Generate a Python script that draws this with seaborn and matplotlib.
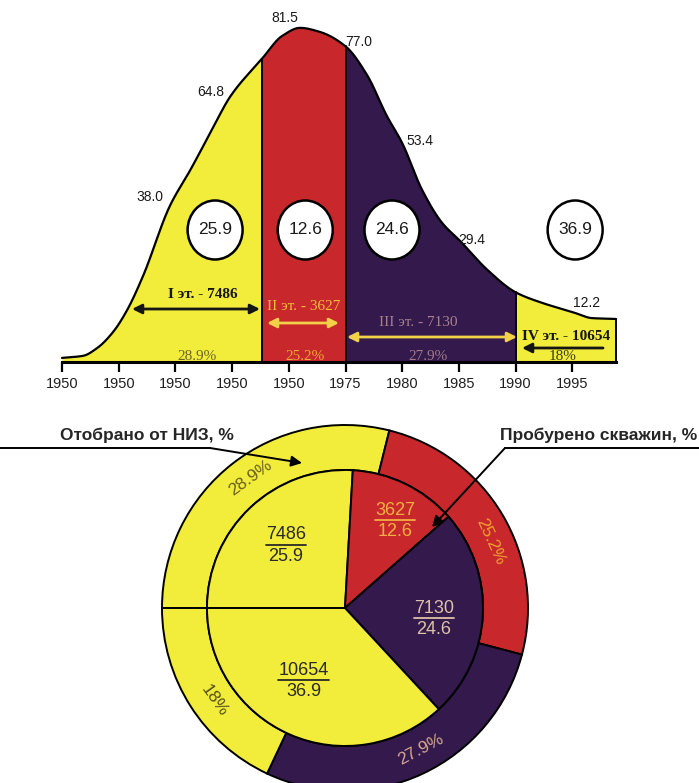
import numpy as np
import matplotlib
matplotlib.use('Agg')
import matplotlib.pyplot as plt
import seaborn as sns
from matplotlib.patches import Ellipse, FancyArrowPatch

# ---------------- data ----------------
tick_labels = ['1950', '1950', '1950', '1950', '1950', '1975', '1980', '1985', '1990', '1995']
curve_x = [0, 0.37, 0.62, 0.9, 1.15, 1.43, 1.9, 2.27, 2.62, 2.97, 3.53, 3.88, 4.2, 4.55,
           5.0, 5.38, 5.73, 6.0, 6.35, 6.7, 7.03, 7.5, 8.0, 8.45, 9.0, 9.35, 9.77]
curve_y = [1.0, 1.5, 3.4, 7.3, 12.7, 21.0, 38.0, 47.0, 56.0, 64.8, 74.0, 79.5, 81.5, 80.5,
           77.0, 70.0, 60.0, 53.4, 42.0, 34.0, 29.4, 22.5, 17.0, 14.5, 12.2, 10.7, 10.5]
point_x = [1.9, 2.97, 4.2, 5.0, 6.0, 7.03, 9.0]
point_vals = [38.0, 64.8, 81.5, 77.0, 53.4, 29.4, 12.2]
stage_bounds = [0, 3.53, 5.0, 8.0, 9.77]
stage_names = ['I эт. - 7486', 'II эт. - 3627', 'III эт. - 7130', 'IV эт. - 10654']
wells = [7486, 3627, 7130, 10654]
oil_share = [25.9, 12.6, 24.6, 36.9]        # отобрано от НИЗ, %
wells_share = [28.9, 25.2, 27.9, 18]        # пробурено скважин, %
circle_x = [2.70, 4.29, 5.82, 9.05]

stage_colors = ['#F2EC3A', '#C8282C', '#33194C', '#F2EC3A']
stage_txt_colors = ['#151515', '#F2BE3C', '#A8828E', '#151515']
pct_txt_colors = ['#6B6424', '#F0A838', '#A07A86', '#3A3A20']
pie_in_txt = ['#2a2a2a', '#F2B040', '#DCC2A4', '#2a2a2a']
pie_out_txt = ['#6A6020', '#F0A030', '#D8A890', '#555020']

sns.set_theme(style='white')
plt.rcParams['font.family'] = ['Liberation Sans', 'DejaVu Sans']
SERIF = ['Liberation Serif', 'DejaVu Serif']


def pchip(x, y, xs):
    x = np.asarray(x, float)
    y = np.asarray(y, float)
    h = np.diff(x)
    d = np.diff(y) / h
    m = np.zeros_like(y)
    m[0], m[-1] = d[0], d[-1]
    for k in range(1, len(x) - 1):
        if d[k - 1] * d[k] <= 0:
            m[k] = 0
        else:
            w1 = 2 * h[k] + h[k - 1]
            w2 = h[k] + 2 * h[k - 1]
            m[k] = (w1 + w2) / (w1 / d[k - 1] + w2 / d[k])
    idx = np.clip(np.searchsorted(x, xs) - 1, 0, len(x) - 2)
    t = (xs - x[idx]) / h[idx]
    h00 = 2 * t**3 - 3 * t**2 + 1
    h10 = t**3 - 2 * t**2 + t
    h01 = -2 * t**3 + 3 * t**2
    h11 = t**3 - t**2
    return h00 * y[idx] + h10 * h[idx] * m[idx] + h01 * y[idx + 1] + h11 * h[idx] * m[idx + 1]


W, H = 699, 783
fig = plt.figure(figsize=(W / 100, H / 100), dpi=100)
fig.patch.set_facecolor('white')

# ---------------- top area chart ----------------
PX0, PXS = 62, 56.7       # pixel of idx 0, pixels per idx
BASE, PYS = 362, 4.1      # baseline pixel, pixels per unit
ax_l, ax_r, ax_t = 40, 640, 10
ax = fig.add_axes([ax_l / W, (H - BASE) / H, (ax_r - ax_l) / W, (BASE - ax_t) / H])
ax.set_xlim((ax_l - PX0) / PXS, (ax_r - PX0) / PXS)
ax.set_ylim(0, (BASE - ax_t) / PYS)
ax.patch.set_alpha(0)

for i in range(4):
    xs = np.linspace(stage_bounds[i], stage_bounds[i + 1], 400)
    ys = pchip(curve_x, curve_y, xs)
    ax.fill_between(xs, 0, ys, color=stage_colors[i], lw=0, zorder=1)
xf = np.linspace(curve_x[0], curve_x[-1], 1500)
sns.lineplot(x=xf, y=pchip(curve_x, curve_y, xf), ax=ax, color='black', lw=1.6, zorder=3)
for b in stage_bounds[1:]:
    ax.plot([b, b], [0, float(pchip(curve_x, curve_y, np.array([b]))[0])], color='black',
            lw=1.4, zorder=3)

for s in ['top', 'right', 'left']:
    ax.spines[s].set_visible(False)
ax.spines['bottom'].set_bounds(0, stage_bounds[-1])
ax.spines['bottom'].set_linewidth(2.2)
ax.spines['bottom'].set_color('black')
ax.spines['bottom'].set_zorder(4)
ax.set_xticks(range(len(tick_labels)))
ax.set_xticklabels(tick_labels, fontsize=10.5, color='#202020')
ax.set_yticks([])
ax.tick_params(axis='x', direction='out', length=7.5, width=1.6, color='black', pad=3,
               bottom=True)

# point value labels
offs = [(-20, 9), (-20, 4), (-15, 10), (13, 4), (18, 2), (11, 1), (14, 9)]
for x, v, o in zip(point_x, point_vals, offs):
    ax.annotate(f'{v:.1f}', (x, v), xytext=o, textcoords='offset pixels',
                ha='center', va='center', fontsize=10, color='#1a1a1a', zorder=5)

# circles with oil share
cy = (BASE - 230) / PYS
for x, v in zip(circle_x, oil_share):
    ax.add_patch(Ellipse((x, cy), 55 / PXS, 59 / PYS, facecolor='white',
                         edgecolor='black', lw=1.8, zorder=5))
    ax.text(x, cy, f'{v:.1f}', ha='center', va='center', fontsize=12.5, color='#1a1a1a',
            zorder=6)


def py(p):
    return (BASE - p) / PYS


def pxv(p):
    return (p - PX0) / PXS


lab_pos = [(203, 295), (304, 307), (418, 323), (566, 337)]
lab_bold = ['bold', 'normal', 'normal', 'bold']
for i in range(4):
    ax.text(pxv(lab_pos[i][0]), py(lab_pos[i][1]), stage_names[i], ha='center', va='center',
            fontsize=11, family=SERIF, weight=lab_bold[i], color=stage_txt_colors[i], zorder=6)
arrows = [((132, 260, 309), '<|-|>', '#151515'), ((267, 339, 323), '<|-|>', '#F2D048'),
          ((347, 517, 337), '<|-|>', '#F2D048'), ((603, 522, 348), '-|>', '#151515')]
for (a0, a1, yy), st, c in arrows:
    ax.add_patch(FancyArrowPatch((pxv(a0), py(yy)), (pxv(a1), py(yy)), arrowstyle=st,
                                 mutation_scale=14, color=c, lw=2.0, zorder=6,
                                 shrinkA=0, shrinkB=0))
pct_x = [197, 305, 428, 563]
for i in range(4):
    s = f'{wells_share[i]:g}%'
    ax.text(pxv(pct_x[i]), py(357), s, ha='center', va='center', fontsize=11, family=SERIF,
            color=pct_txt_colors[i], zorder=6)

# ---------------- bottom pie ----------------
CX, CY, R = 345, 608, 183
r_in = 138 / R
axp = fig.add_axes([(CX - R) / W, (H - CY - R) / H, 2 * R / W, 2 * R / H])
outer, _ = axp.pie(wells_share, radius=1, startangle=180, counterclock=False,
                   colors=stage_colors,
                   wedgeprops=dict(width=1 - r_in, edgecolor='black', linewidth=1.4))
inner, _ = axp.pie(oil_share, radius=r_in, startangle=180, counterclock=False,
                   colors=stage_colors,
                   wedgeprops=dict(edgecolor='black', linewidth=1.4))
axp.set_xlim(-1, 1)
axp.set_ylim(-1, 1)
axp.set_aspect('equal')
axp.axis('off')

out_shift = [-2, -6, 3, 3]
for i, w in enumerate(outer):
    mid = (w.theta1 + w.theta2) / 2 + out_shift[i]
    rr = (1 + r_in) / 2
    x, y = rr * np.cos(np.radians(mid)), rr * np.sin(np.radians(mid))
    rot = mid - 90 if 0 <= (mid % 360) <= 180 else mid + 90
    axp.text(x, y, f'{wells_share[i]:g}%', ha='center', va='center', rotation=rot,
             rotation_mode='anchor', fontsize=12.5, color=pie_out_txt[i])

renderer = fig.canvas.get_renderer()
in_r = [0.47, 0.55, 0.49, 0.46]
in_shift = [0, -4, -4, -6]
for i, w in enumerate(inner):
    mid = (w.theta1 + w.theta2) / 2 + in_shift[i]
    rr = in_r[i]
    x, y = rr * np.cos(np.radians(mid)), rr * np.sin(np.radians(mid))
    t = axp.text(x, y + 0.058, f'{wells[i]}', ha='center', va='center',
                 fontsize=13, color=pie_in_txt[i])
    axp.text(x, y - 0.058, f'{oil_share[i]:.1f}', ha='center', va='center',
             fontsize=13, color=pie_in_txt[i])
    bb = t.get_window_extent(renderer)
    half = bb.width / 2 / R
    axp.plot([x - half, x + half], [y + 0.004, y + 0.004], color=pie_in_txt[i], lw=1.3)

# ---------------- overlay annotations ----------------
ov = fig.add_axes([0, 0, 1, 1], zorder=10)
ov.set_xlim(0, W)
ov.set_ylim(H, 0)
ov.axis('off')
ov.patch.set_alpha(0)
ov.text(60, 435, 'Отобрано от НИЗ, %', ha='left', va='center', fontsize=12.5,
        weight='bold', color='#262626')
ov.text(697, 435, 'Пробурено скважин, %', ha='right', va='center', fontsize=12.5,
        weight='bold', color='#262626')
ov.plot([0, 210], [448, 448], color='black', lw=1.4)
ov.plot([505, 699], [448, 448], color='black', lw=1.4)
ov.add_patch(FancyArrowPatch((210, 448), (302, 463), arrowstyle='-|>', mutation_scale=16,
                             color='black', lw=1.4, shrinkA=0, shrinkB=0))
ov.add_patch(FancyArrowPatch((505, 448), (432, 527), arrowstyle='-|>', mutation_scale=16,
                             color='black', lw=1.4, shrinkA=0, shrinkB=0))

fig.savefig('out.png', dpi=100, facecolor='white')
